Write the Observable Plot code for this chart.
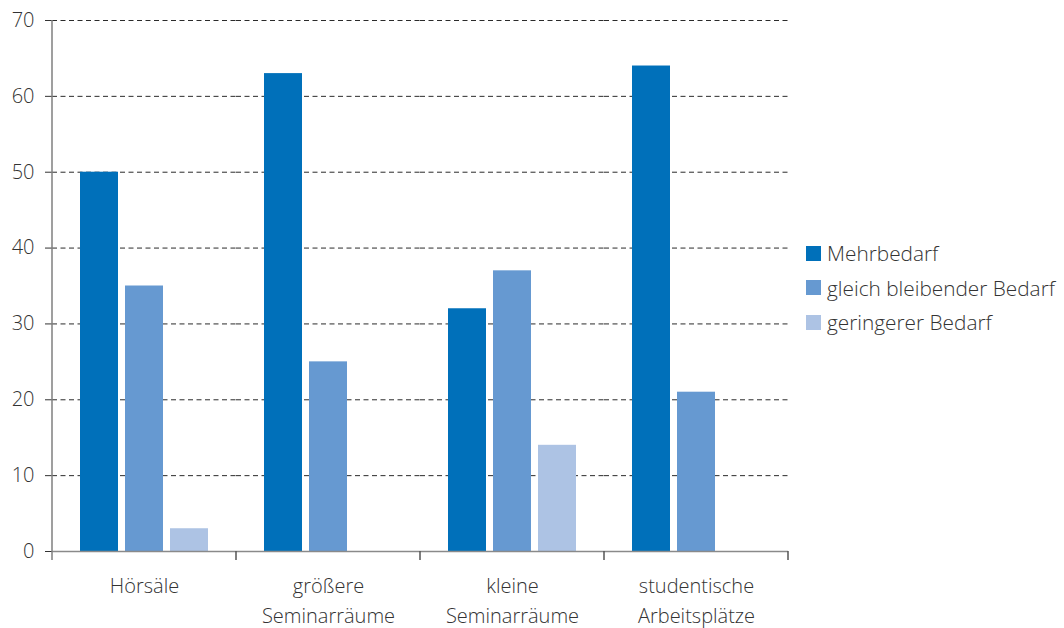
<!DOCTYPE html>
<html><head><meta charset="utf-8">
<script src="https://cdn.jsdelivr.net/npm/d3@7"></script>
<script src="https://cdn.jsdelivr.net/npm/@observablehq/plot@0.6"></script>
<style>
body{margin:0;background:#fff;font-family:"Open Sans",sans-serif;}
#wrap{position:relative;width:1064px;height:628px;}
#legend{position:absolute;left:806px;top:236px;font-size:20.8px;font-weight:300;color:#333;}
.row{display:flex;align-items:center;height:34.5px;white-space:nowrap;}
.sw{width:15px;height:15px;margin-right:6px;flex:none;}
</style></head><body><div id="wrap"><div id="legend"></div></div>
<script>
const categories = ["Hörsäle","größere Seminarräume","kleine Seminarräume","studentische Arbeitsplätze"];
const categoryLabels = ["Hörsäle","größere\nSeminarräume","kleine\nSeminarräume","studentische\nArbeitsplätze"];
const series = ["Mehrbedarf","gleich bleibender Bedarf","geringerer Bedarf"];
const colors = ["#0070ba","#6699d1","#adc3e4"];
const mehrbedarf = [50,63,32,64];
const gleichBleibend = [35,25,37,21];
const geringer = [3,0,14,0];
const yTicks = [0,10,20,30,40,50,60,70];

const data = [];
[mehrbedarf, gleichBleibend, geringer].forEach((vals, s) =>
  vals.forEach((v, i) => data.push({category: categories[i], series: series[s], value: v})));

const plot = Plot.plot({
  width: 1064, height: 628,
  marginLeft: 52, marginRight: 276, marginTop: 20, marginBottom: 77,
  style: {fontFamily: "'Open Sans', sans-serif", fontSize: "20px", fontWeight: 300, color: "#333", background: "transparent", overflow: "visible"},
  fx: {domain: categories, padding: 0},
  x: {domain: series, paddingInner: 7/45, paddingOuter: 0.62, axis: null},
  y: {domain: [0, 70]},
  color: {domain: series, range: colors},
  marks: [
    Plot.ruleY(yTicks.filter(d => d > 0), {stroke: "#2b2b2b", strokeDasharray: "5,3.5", strokeWidth: 1}),
    Plot.barY(data, {fx: "category", x: "series", y: "value", fill: "series"}),
    Plot.ruleY([0], {stroke: "#8a8a8a", strokeWidth: 1.5}),
    Plot.axisY({ticks: yTicks, tickSize: 7, tickPadding: 11, label: null, stroke: "#333"}),
    Plot.axisFx({anchor: "bottom", tickSize: 0, tickPadding: 20, label: null, lineHeight: 1.5,
      tickFormat: d => categoryLabels[categories.indexOf(d)]})
  ]
});

// axis line on the left and band-boundary ticks on the bottom, from Plot's scales
const fx = plot.scale("fx"), ys = plot.scale("y");
const svg = d3.select(plot);
const g = svg.append("g").attr("stroke", "#7f7f7f").attr("stroke-width", 1.5);
const x0 = fx.apply(categories[0]);
g.append("line").attr("x1", x0).attr("x2", x0).attr("y1", ys.apply(70)).attr("y2", ys.apply(0) + 9);
categories.forEach(c => {
  const xr = fx.apply(c) + fx.bandwidth;
  g.append("line").attr("x1", xr).attr("x2", xr).attr("y1", ys.apply(0)).attr("y2", ys.apply(0) + 9).attr("stroke", "#555");
});

document.getElementById("wrap").prepend(plot);
const legend = document.getElementById("legend");
series.forEach((s, i) => {
  const row = document.createElement("div"); row.className = "row";
  const sw = document.createElement("span"); sw.className = "sw"; sw.style.background = colors[i];
  const t = document.createElement("span"); t.textContent = s;
  row.append(sw, t); legend.append(row);
});
</script></body></html>
